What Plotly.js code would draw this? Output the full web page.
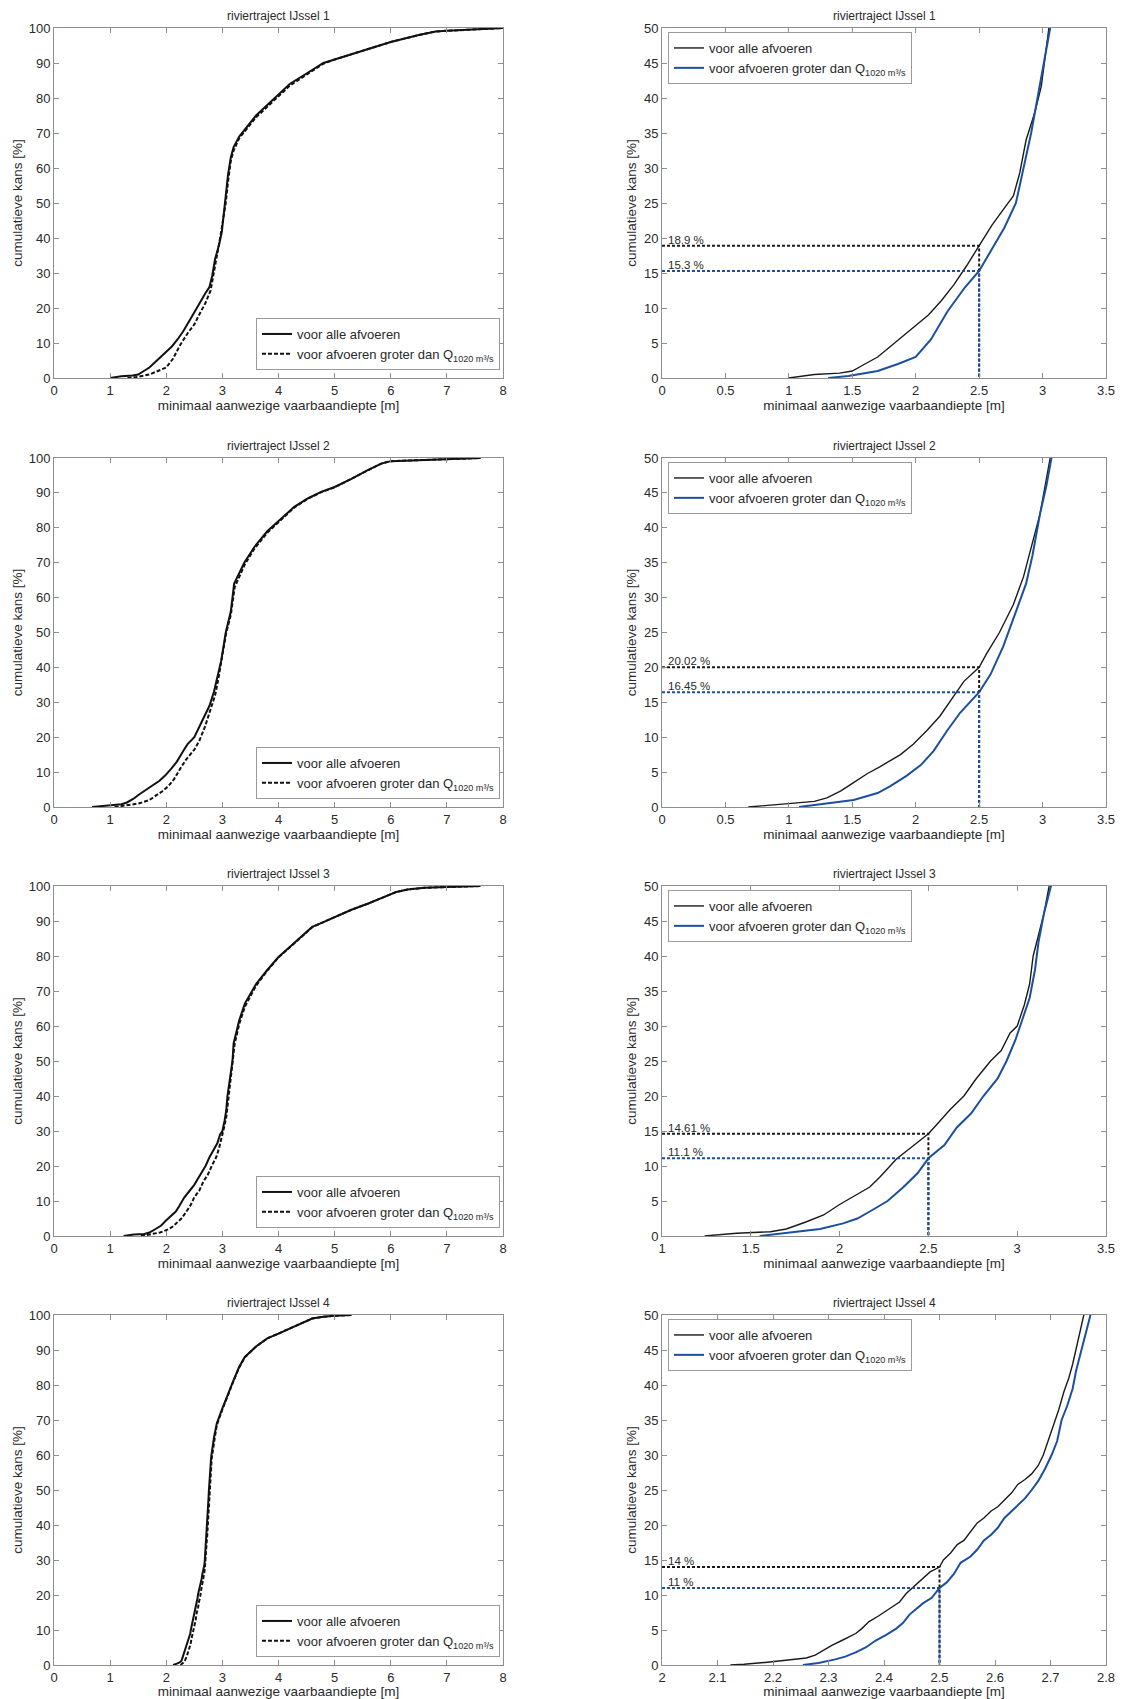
<!DOCTYPE html>
<html>
<head>
<meta charset="utf-8">
<script src="https://cdn.plot.ly/plotly-3.0.1.min.js"></script>
<style>html,body{margin:0;padding:0;background:#fff;}#chart{width:1129px;height:1699px;}</style>
</head>
<body>
<div id="chart"></div>
<script>
// ---------------- DATA ----------------
const rivers = ['riviertraject IJssel 1', 'riviertraject IJssel 2', 'riviertraject IJssel 3', 'riviertraject IJssel 4'];
const seriesNames = ['voor alle afvoeren', 'voor afvoeren groter dan Q<sub>1020 m³/s</sub>'];

// IJssel 1
const depthAll1 = [1.0,1.2,1.4,1.5,1.6,1.7,1.8,1.9,2.0,2.1,2.2,2.3,2.4,2.5,2.6,2.7,2.77,2.82,2.87,2.94,2.99,3.05,3.1,3.15,3.2,3.3,3.4,3.6,3.8,4.0,4.2,4.5,4.8,5.0,5.5,6.0,6.5,6.8,7.0,7.5,8.0];
const probAll1  = [0,0.5,0.7,1.0,2.0,3.0,4.5,6,7.5,9,11,13.3,16,18.9,21.8,24.3,26,29.3,34,38,41.7,50,58,63,66,69,71,75,78,81,84,87,90,91,93.5,96,98,99,99.2,99.6,100];
const depthHigh1 = [1.31,1.47,1.7,1.86,2.0,2.12,2.25,2.39,2.5,2.6,2.7,2.79,2.85,2.91,2.96,3.02,3.06,3.1,3.15,3.2,3.3,3.4,3.6,3.8,4.0,4.2,4.5,4.8,5.0,5.5,6.0,6.5,6.8,7.0,7.5,8.0];
const probHigh1  = [0,0.3,1.0,2.0,3.0,5.5,9.5,13,15.3,18.5,21.5,25,30,35,40,46,50,56,62,65,68.5,70.5,74.5,77.5,80.5,83.5,86.7,89.8,91,93.5,96,98,99,99.2,99.6,100];

// IJssel 2
const depthAll2 = [0.68,0.97,1.2,1.3,1.41,1.51,1.62,1.72,1.88,1.98,2.09,2.19,2.3,2.38,2.5,2.56,2.66,2.77,2.85,2.92,2.98,3.03,3.06,3.15,3.21,3.39,3.57,3.8,4.05,4.28,4.52,4.76,5.0,5.3,5.59,5.83,6.0,6.48,6.78,7.6];
const probAll2  = [0,0.4,0.8,1.3,2.3,3.5,4.8,5.8,7.5,9,11,13,16,18,20.02,22,25,29,33,38,42,47,50,56,64,70,74.5,79,82.6,86,88.4,90.3,91.7,94,96.5,98.4,99.1,99.4,99.5,100];
const depthHigh2 = [1.08,1.36,1.51,1.7,1.8,1.93,2.04,2.14,2.25,2.35,2.5,2.59,2.69,2.79,2.87,2.92,2.98,3.03,3.07,3.15,3.22,3.4,3.57,3.8,4.05,4.28,4.52,4.76,5.0,5.3,5.59,5.83,6.0,6.48,6.78,7.6];
const probHigh2  = [0,0.6,1,2,3,4.5,6,8,11,13.5,16.45,19,23,28,32,36,42,46,50,55,63,69.5,74,78.6,82.3,85.8,88.3,90.2,91.6,94,96.5,98.4,99.1,99.4,99.5,100];

// IJssel 3
const depthAll3 = [1.24,1.42,1.61,1.7,1.81,1.91,2.0,2.1,2.17,2.23,2.32,2.42,2.5,2.55,2.62,2.7,2.77,2.85,2.91,2.96,3.0,3.04,3.07,3.09,3.12,3.15,3.18,3.2,3.3,3.4,3.6,3.8,4.0,4.2,4.4,4.6,4.8,5.0,5.3,5.6,5.9,6.1,6.3,6.6,7.0,7.6];
const probAll3  = [0,0.4,0.6,1,2,3,4.5,6,7,8.5,11,13,14.61,16,18,20,22.5,25,26.5,29,30,33,36,40,43,46,50,55,61.6,66.4,72,76,79.7,82.6,85.4,88.3,89.7,91.1,93.2,95,96.9,98.3,99,99.5,99.7,100];
const depthHigh3 = [1.55,1.7,1.89,2.02,2.1,2.17,2.27,2.36,2.44,2.5,2.59,2.66,2.74,2.81,2.89,2.94,2.99,3.03,3.07,3.1,3.12,3.15,3.19,3.22,3.3,3.4,3.6,3.8,4.0,4.2,4.4,4.6,4.8,5.0,5.3,5.6,5.9,6.1,6.3,6.6,7.0,7.6];
const probHigh3  = [0,0.4,1,1.8,2.5,3.5,5,7,9,11.1,13,15.5,17.5,20,22.5,25,28,31,34,38,42,46,50,55,60.5,65.5,71.5,75.8,79.6,82.5,85.3,88.2,89.7,91.1,93.2,95,96.9,98.3,99,99.5,99.7,100];

// IJssel 4
const depthAll4 = [2.123,2.148,2.19,2.227,2.26,2.276,2.288,2.306,2.324,2.349,2.36,2.373,2.39,2.41,2.428,2.44,2.458,2.47,2.483,2.5,2.507,2.52,2.532,2.544,2.556,2.568,2.58,2.593,2.605,2.617,2.63,2.641,2.654,2.666,2.678,2.687,2.696,2.705,2.715,2.724,2.733,2.74,2.748,2.754,2.76,2.8,2.85,2.9,3.0,3.1,3.2,3.3,3.4,3.6,3.8,4.0,4.2,4.4,4.6,4.8,5.0,5.3];
const probAll4  = [0,0.1,0.4,0.7,1,1.4,2,2.8,3.5,4.5,5.2,6.2,7,8,9,10.2,11.5,12.3,13.3,14,15,16,17.2,17.8,19,20.3,21,22,22.6,23.6,24.6,25.8,26.5,27.3,28.5,30,32,34,36.5,39,41,43,46,48,50,59.4,65,69,73.3,77.6,81.4,85.2,88,91,93.3,94.7,96.2,97.6,99,99.5,99.8,100];
const depthHigh4 = [2.254,2.282,2.312,2.33,2.349,2.367,2.385,2.404,2.422,2.434,2.446,2.458,2.47,2.486,2.5,2.513,2.526,2.538,2.556,2.568,2.58,2.593,2.605,2.617,2.63,2.641,2.654,2.666,2.678,2.69,2.702,2.712,2.72,2.73,2.74,2.746,2.754,2.76,2.766,2.772,2.81,2.86,2.9,3.0,3.1,3.2,3.3,3.4,3.6,3.8,4.0,4.2,4.4,4.6,4.8,5.0,5.3];
const probHigh4  = [0,0.3,0.8,1.2,1.8,2.5,3.5,4.3,5.2,6,7.2,8,8.8,9.6,11,11.8,13,14.6,15.5,16.5,17.8,18.6,19.6,21,22,22.7,23.8,25,26.3,28,30,32,35,37,39.5,42,44.5,46,48,50,59,64.5,68.5,73,77.3,81.2,85,87.9,91,93.3,94.7,96.2,97.6,99,99.5,99.8,100];

// reference depth and read-off percentages
const refDepth = 2.5;
const pctAll  = [18.9, 20.02, 14.61, 14];
const pctHigh = [15.3, 16.45, 11.1, 11];
const pctAllLabels  = ['18.9 %', '20.02 %', '14.61 %', '14 %'];
const pctHighLabels = ['15.3 %', '16.45 %', '11.1 %', '11 %'];

// axis ranges / ticks
const leftXRange = [0, 8], leftYRange = [0, 100];
const rightXRanges = [[0, 3.5], [0, 3.5], [1, 3.5], [2, 2.8]];
const rightXDticks = [0.5, 0.5, 0.5, 0.1];
const rightYRange = [0, 50];

const depthsAll  = [depthAll1, depthAll2, depthAll3, depthAll4];
const probsAll   = [probAll1, probAll2, probAll3, probAll4];
const depthsHigh = [depthHigh1, depthHigh2, depthHigh3, depthHigh4];
const probsHigh  = [probHigh1, probHigh2, probHigh3, probHigh4];

// ---------------- LAYOUT ----------------
const W = 1129, H = 1699;
const colL = [54, 503], colR = [662, 1106];
const rowsPx = [[28, 378], [458, 807], [886, 1236], [1315, 1665]];
const BLUE = '#1c4f9e';
const TXT = '#2a2a2a';
const FONT = 'Liberation Sans, Arial, sans-serif';
const TICK_SIZE = 13, AXT_SIZE = 13.5, LEG_SIZE = 13, TITLE_SIZE = 12, PCT_SIZE = 11.5;

const layout = {
  width: W, height: H,
  margin: {l: 0, r: 0, t: 0, b: 0},
  paper_bgcolor: '#fff', plot_bgcolor: '#fff',
  font: {family: FONT, color: TXT, size: 12},
  showlegend: true,
  annotations: []
};
const data = [];

function axBase() {
  return {
    showline: true, linecolor: '#8e8e8e', linewidth: 1, mirror: 'ticks',
    ticks: 'inside', ticklen: 5, tickcolor: '#8e8e8e', tickwidth: 1,
    showgrid: false, zeroline: false,
    tickfont: {family: FONT, size: TICK_SIZE, color: TXT},
    fixedrange: true
  };
}

for (let i = 0; i < 4; i++) {
  const [top, bot] = rowsPx[i];
  const yDom = [1 - bot / H, 1 - top / H];
  const kL = 2 * i + 1, kR = 2 * i + 2;
  const xnL = kL === 1 ? 'xaxis' : 'xaxis' + kL, ynL = kL === 1 ? 'yaxis' : 'yaxis' + kL;
  const xnR = 'xaxis' + kR, ynR = 'yaxis' + kR;
  const xrL = kL === 1 ? 'x' : 'x' + kL, yrL = kL === 1 ? 'y' : 'y' + kL;
  const xrR = 'x' + kR, yrR = 'y' + kR;
  const legL = kL === 1 ? 'legend' : 'legend' + kL;
  const legR = 'legend' + kR;

  layout[xnL] = Object.assign(axBase(), {
    domain: [colL[0] / W, colL[1] / W], anchor: yrL, range: leftXRange, tick0: 0, dtick: 1,
    title: {text: 'minimaal aanwezige vaarbaandiepte [m]', font: {size: AXT_SIZE, color: TXT}, standoff: 3}
  });
  layout[ynL] = Object.assign(axBase(), {
    domain: yDom, anchor: xrL, range: leftYRange, tick0: 0, dtick: 10,
    title: {text: 'cumulatieve kans [%]', font: {size: AXT_SIZE, color: TXT}, standoff: 2}
  });
  layout[xnR] = Object.assign(axBase(), {
    domain: [colR[0] / W, colR[1] / W], anchor: yrR, range: rightXRanges[i], tick0: rightXRanges[i][0], dtick: rightXDticks[i],
    title: {text: 'minimaal aanwezige vaarbaandiepte [m]', font: {size: AXT_SIZE, color: TXT}, standoff: 3}
  });
  layout[ynR] = Object.assign(axBase(), {
    domain: yDom, anchor: xrR, range: rightYRange, tick0: 0, dtick: 5,
    title: {text: 'cumulatieve kans [%]', font: {size: AXT_SIZE, color: TXT}, standoff: 4}
  });

  // legends
  const legBase = {bgcolor: '#fff', bordercolor: '#9a9a9a', borderwidth: 1,
    font: {family: FONT, size: LEG_SIZE, color: TXT}, tracegroupgap: 0, itemwidth: 30,
    traceorder: 'normal'};
  layout[legL] = Object.assign({}, legBase, {
    x: (colL[1] - 3) / W, y: 1 - (bot - 8) / H, xanchor: 'right', yanchor: 'bottom'
  });
  layout[legR] = Object.assign({}, legBase, {
    x: (colR[0] + 6) / W, y: 1 - (top + 4) / H, xanchor: 'left', yanchor: 'top'
  });

  // titles
  [colL, colR].forEach(c => {
    layout.annotations.push({
      text: rivers[i], xref: 'paper', yref: 'paper',
      x: (c[0] + c[1]) / 2 / W, y: yDom[1], xanchor: 'center', yanchor: 'bottom', yshift: 3,
      showarrow: false, font: {family: FONT, size: TITLE_SIZE, color: TXT}
    });
  });

  // left panel curves
  data.push({x: depthsAll[i], y: probsAll[i], xaxis: xrL, yaxis: yrL, mode: 'lines', name: seriesNames[0],
    legend: legL, line: {color: '#111', width: 2}});
  data.push({x: depthsHigh[i], y: probsHigh[i], xaxis: xrL, yaxis: yrL, mode: 'lines', name: seriesNames[1],
    legend: legL, line: {color: '#111', width: 2, dash: '4px,2px'}});

  // right panel curves
  data.push({x: depthsAll[i], y: probsAll[i], xaxis: xrR, yaxis: yrR, mode: 'lines', name: seriesNames[0],
    legend: legR, line: {color: '#1a1a1a', width: 1.4}});
  data.push({x: depthsHigh[i], y: probsHigh[i], xaxis: xrR, yaxis: yrR, mode: 'lines', name: seriesNames[1],
    legend: legR, line: {color: BLUE, width: 2}});

  // reference read-off lines
  const x0 = rightXRanges[i][0];
  data.push({x: [x0, refDepth, refDepth], y: [pctAll[i], pctAll[i], 0], xaxis: xrR, yaxis: yrR, mode: 'lines',
    showlegend: false, hoverinfo: 'skip', line: {color: '#1a1a1a', width: 2, dash: '3px,2px'}});
  data.push({x: [x0, refDepth, refDepth], y: [pctHigh[i], pctHigh[i], 0], xaxis: xrR, yaxis: yrR, mode: 'lines',
    showlegend: false, hoverinfo: 'skip', line: {color: BLUE, width: 2, dash: '3px,2px'}});

  layout.annotations.push({
    text: pctAllLabels[i], xref: xrR, yref: yrR, x: x0, y: pctAll[i], xanchor: 'left', yanchor: 'bottom',
    xshift: 4, yshift: -2, showarrow: false, font: {family: FONT, size: PCT_SIZE, color: TXT}
  });
  layout.annotations.push({
    text: pctHighLabels[i], xref: xrR, yref: yrR, x: x0, y: pctHigh[i], xanchor: 'left', yanchor: 'bottom',
    xshift: 4, yshift: -2, showarrow: false, font: {family: FONT, size: PCT_SIZE, color: TXT}
  });
}

Plotly.newPlot('chart', data, layout, {displayModeBar: false, staticPlot: true});
</script>
</body>
</html>
